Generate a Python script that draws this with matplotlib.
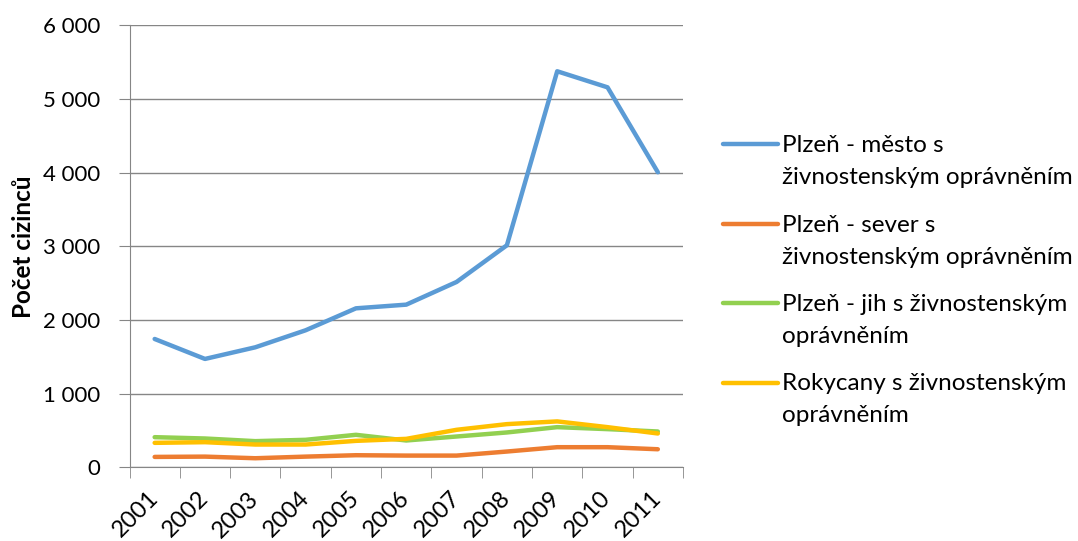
import matplotlib.pyplot as plt
from matplotlib.lines import Line2D
from matplotlib.ticker import FuncFormatter
from matplotlib.transforms import ScaledTranslation

plt.rcParams['font.family'] = ['Lato', 'DejaVu Sans']

# data
years = ["2001", "2002", "2003", "2004", "2005", "2006",
         "2007", "2008", "2009", "2010", "2011"]
plzen_mesto = [1742, 1471, 1629, 1860, 2158, 2208, 2516, 3014, 5376, 5158, 4005]
plzen_sever = [141, 145, 123, 145, 164, 159, 159, 214, 273, 273, 245]
plzen_jih = [409, 391, 355, 373, 441, 364, 418, 473, 545, 518, 486]
rokycany = [332, 341, 309, 309, 359, 386, 509, 586, 623, 545, 459]

labels = [("Plzeň - město s", "živnostenským oprávněním"),
          ("Plzeň - sever s", "živnostenským oprávněním"),
          ("Plzeň - jih s živnostenským", "oprávněním"),
          ("Rokycany s živnostenským", "oprávněním")]
colors = ["#5B9BD5", "#ED7D31", "#92D050", "#FFC000"]

W, H = 1078, 541
fig = plt.figure(figsize=(W / 100, H / 100), dpi=100)
ax = fig.add_axes([129.5 / W, 1 - 467.3 / H, (683 - 129.5) / W, 442 / H])

x = range(len(years))
for series, col in zip([plzen_mesto, plzen_sever, plzen_jih, rokycany], colors):
    ax.plot(x, series, color=col, lw=3.2, solid_capstyle="round")

ax.set_xlim(-0.5, len(years) - 0.5)
ax.set_ylim(0, 6000)
ax.set_yticks(range(0, 6001, 1000))
ax.yaxis.set_major_formatter(FuncFormatter(lambda v, p: f"{int(v):,}".replace(",", " ")))
ax.grid(axis="y", color="#868686", lw=1)
ax.set_axisbelow(True)

ax.set_xticks(list(x))
ax.set_xticklabels(years, rotation=45, ha="right", va="center", rotation_mode="anchor")
off = ScaledTranslation(6 / 100, 0, fig.dpi_scale_trans)
for lab in ax.get_xticklabels():
    lab.set_transform(lab.get_transform() + off)
ax.set_xticks([i - 0.5 for i in range(len(years) + 1)], minor=True)
ax.tick_params(axis="x", which="major", length=0, pad=20, labelsize=17)
ax.tick_params(axis="x", which="minor", length=8, color="#868686", direction="out")
ax.tick_params(axis="y", length=8, color="#868686", pad=13, labelsize=16)

for s in ["top", "right"]:
    ax.spines[s].set_visible(False)
for s in ["left", "bottom"]:
    ax.spines[s].set_color("#868686")

ax.set_ylabel("Počet cizinců", fontsize=17.5, fontweight="bold", labelpad=6)

# legend: handle aligned with the first line of each label
for i, ((l1, l2), col) in enumerate(zip(labels, colors)):
    yc = 144 + 79.5 * i
    fig.add_artist(Line2D([723 / W, 778 / W], [1 - yc / H, 1 - yc / H],
                          color=col, lw=3.2, solid_capstyle="round"))
    fig.text(782 / W, 1 - (yc + 8) / H, l1, fontsize=17.5, va="baseline")
    fig.text(782 / W, 1 - (yc + 40) / H, l2, fontsize=17.5, va="baseline")

fig.savefig("out.png", dpi=100)
